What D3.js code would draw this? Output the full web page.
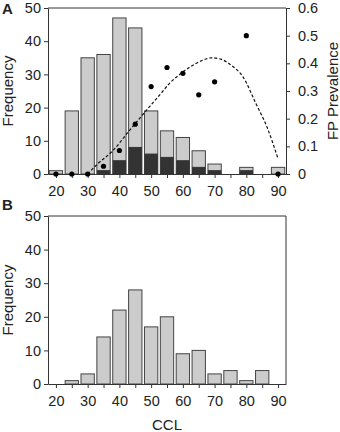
<!DOCTYPE html>
<html lang="en">
<head>
<meta charset="UTF-8">
<title>CCL frequency and FP prevalence</title>
<script src="https://d3js.org/d3.v7.min.js"></script>
<style>
    body { margin: 0; background: #fff; }
    svg text { font-family: "Liberation Sans", Arial, sans-serif; fill: #222; }
    .axis path, .axis line { stroke: #333; stroke-width: 1; }
    .axis text { font-size: 14.5px; }
    .bar { fill: #cccccc; stroke: #444; stroke-width: 1; }
    .bar-fp { fill: #333333; stroke: #333; stroke-width: 1; }
    .fit { fill: none; stroke: #111; stroke-width: 1.2; stroke-dasharray: 3,2; }
</style>
</head>
<body>
<div id="chart"></div>
<script>
// panel A: all turtles by CCL bin, with FP-positive counts
const ccl = [20, 25, 30, 35, 40, 45, 50, 55, 60, 65, 70, 75, 80, 85, 90];
const freqA = [1, 19, 35, 36, 47, 44, 19, 13, 11, 7, 3, 0, 2, 0, 2];
const fpA = [0, 0, 0, 1, 4, 8, 6, 5, 4, 2, 1, 0, 1, 0, 0];
// prevalence dots (bins that had turtles)
const prevCcl = [20, 25, 30, 35, 40, 45, 50, 55, 60, 65, 70, 80, 90];
const prevalence = [0, 0, 0, 0.028, 0.085, 0.18, 0.316, 0.385, 0.364, 0.286, 0.333, 0.5, 0];
// dashed fitted curve
const fitCcl = [30, 33, 38, 43, 48.5, 53, 56, 59, 62, 66, 69, 72, 75, 79, 83, 86.5, 90];
const fitPrev = [0, 0.035, 0.085, 0.155, 0.23, 0.29, 0.33, 0.36, 0.385, 0.41, 0.42, 0.415, 0.395, 0.35, 0.255, 0.17, 0.055];
// panel B
const freqB = [0, 1, 3, 14, 22, 28, 17, 20, 9, 10, 3, 4, 1, 4, 0];

const xTicks = [20, 25, 30, 35, 40, 45, 50, 55, 60, 65, 70, 75, 80, 85, 90];
const freqTicks = [0, 10, 20, 30, 40, 50];
const prevTicks = [0, 0.1, 0.2, 0.3, 0.4, 0.5, 0.6];

const W = 340, H = 432;
const left = 48, right = 286;
const panels = [{top: 8, bottom: 174, label: "A"}, {top: 216, bottom: 384, label: "B"}];
const barW = 4.2;

const svg = d3.select("#chart").append("svg")
    .attr("width", W).attr("height", H);

const x = d3.scaleLinear().domain([17.5, 92.5]).range([left, right]);

function drawPanel(p, freq, fp, isA) {
    const y = d3.scaleLinear().domain([0, 50]).range([p.bottom, p.top]);
    const g = svg.append("g");

    // frame top + right
    g.append("line").attr("x1", left).attr("x2", right)
        .attr("y1", p.top).attr("y2", p.top).attr("stroke", "#333");
    if (!isA) {
        g.append("line").attr("x1", right).attr("x2", right)
            .attr("y1", p.top).attr("y2", p.bottom).attr("stroke", "#333");
    }

    // bars
    g.selectAll(".bar").data(ccl.map((c, i) => ({c: c, v: freq[i]})).filter(d => d.v > 0))
        .join("rect").attr("class", "bar")
        .attr("x", d => x(d.c - barW / 2))
        .attr("width", x(barW) - x(0))
        .attr("y", d => y(d.v))
        .attr("height", d => y(0) - y(d.v));

    if (fp) {
        g.selectAll(".bar-fp").data(ccl.map((c, i) => ({c: c, v: fp[i]})).filter(d => d.v > 0))
            .join("rect").attr("class", "bar-fp")
            .attr("x", d => x(d.c - barW / 2) + 0.5)
            .attr("width", x(barW) - x(0) - 1)
            .attr("y", d => y(d.v))
            .attr("height", d => y(0) - y(d.v));
    }

    // axes
    g.append("g").attr("class", "axis")
        .attr("transform", "translate(" + left + ",0)")
        .call(d3.axisLeft(y).tickValues(freqTicks).tickSize(4).tickSizeOuter(0).tickPadding(3));

    g.append("g").attr("class", "axis")
        .attr("transform", "translate(0," + p.bottom + ")")
        .call(d3.axisBottom(x).tickValues(xTicks).tickSize(4).tickSizeOuter(0).tickPadding(8)
            .tickFormat(d => d % 10 === 0 ? d : ""));

    g.append("text")
        .attr("transform", "translate(13," + ((p.top + p.bottom) / 2) + ") rotate(-90)")
        .attr("text-anchor", "middle").style("font-size", "15px")
        .text("Frequency");

    g.append("text").attr("x", 2).attr("y", isA ? 14 : 210)
        .style("font-size", "15px").style("font-weight", "bold")
        .text(p.label);

    return y;
}

drawPanel(panels[0], freqA, fpA, true);
drawPanel(panels[1], freqB, null, false);

// prevalence overlay on panel A
const yP = d3.scaleLinear().domain([0, 0.6]).range([panels[0].bottom, panels[0].top]);

svg.append("g").attr("class", "axis")
    .attr("transform", "translate(" + right + ",0)")
    .call(d3.axisRight(yP).tickValues(prevTicks).tickSize(4).tickSizeOuter(0).tickPadding(8)
        .tickFormat(d => d === 0 ? "0" : d3.format(".1f")(d)));

svg.append("text")
    .attr("transform", "translate(338," + ((panels[0].top + panels[0].bottom) / 2) + ") rotate(-90)")
    .attr("text-anchor", "middle").style("font-size", "15px")
    .text("FP Prevalence");

const fitLine = d3.line()
    .x((d, i) => x(fitCcl[i]))
    .y(d => yP(d))
    .curve(d3.curveMonotoneX);

svg.append("path").datum(fitPrev).attr("class", "fit").attr("d", fitLine);

svg.selectAll(".dot").data(prevCcl.map((c, i) => ({c: c, p: prevalence[i]})))
    .join("circle").attr("class", "dot")
    .attr("cx", d => x(d.c)).attr("cy", d => yP(d.p))
    .attr("r", 2.6).attr("fill", "#000");

svg.append("text").attr("x", (left + right) / 2).attr("y", 430)
    .attr("text-anchor", "middle").style("font-size", "15px")
    .text("CCL");
</script>
</body>
</html>
